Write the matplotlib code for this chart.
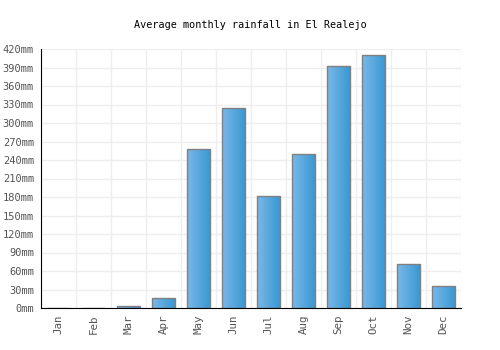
import matplotlib
matplotlib.use("Agg")
import matplotlib.pyplot as plt
import numpy as np
from matplotlib.colors import LinearSegmentedColormap

months = ["Jan", "Feb", "Mar", "Apr", "May", "Jun", "Jul", "Aug", "Sep", "Oct", "Nov", "Dec"]
rainfall = [0, 0, 3, 16, 258, 324, 182, 250, 392, 411, 71, 35]
yticks = list(range(0, 421, 30))
ytick_labels = [f"{v}mm" for v in yticks]

plt.rcParams['font.family'] = ['DejaVu Sans Mono']

fig = plt.figure(figsize=(5, 3.5), dpi=100)
ax = fig.add_axes([41/500, 1 - 308/350, 420/500, 259/350])

x = np.arange(len(months))
bars = ax.bar(x, rainfall, width=0.67, color='none', edgecolor='#808080', linewidth=1, zorder=3)

cmap = LinearSegmentedColormap.from_list('g', ['#7ab8ea', '#3797d0'])
grad = np.linspace(0, 1, 64).reshape(1, -1)
for b in bars:
    h = b.get_height()
    if h <= 0:
        continue
    x0 = b.get_x()
    w = b.get_width()
    im = ax.imshow(grad, cmap=cmap, aspect='auto', extent=[x0, x0 + w, 0, h], zorder=2)
    im.set_clip_path(b)

ax.set_xlim(-0.5, 11.5)
ax.set_ylim(0, 420)
ax.set_xticks(x)
ax.set_xticklabels(months, rotation=90, color='#555555', fontsize=7.8)
ax.set_yticks(yticks)
ax.set_yticklabels(ytick_labels, color='#555555', fontsize=7.5)
ax.set_xticks(np.arange(-0.5, 12, 1), minor=True)
ax.grid(True, which='minor', axis='x', color='#eeeeee', linewidth=1, zorder=0)
ax.grid(True, which='major', axis='y', color='#eeeeee', linewidth=1, zorder=0)
ax.tick_params(axis='both', which='both', length=0, pad=5)
for s in ['top', 'right']:
    ax.spines[s].set_visible(False)
ax.spines['left'].set_color('black')
ax.spines['bottom'].set_color('black')
ax.spines['left'].set_zorder(4)
ax.spines['bottom'].set_zorder(4)

fig.text(0.5, 1 - 25/350, "Average monthly rainfall in El Realejo", ha='center', va='center', fontsize=7.3, color='black')

fig.savefig("out.png", dpi=100)
